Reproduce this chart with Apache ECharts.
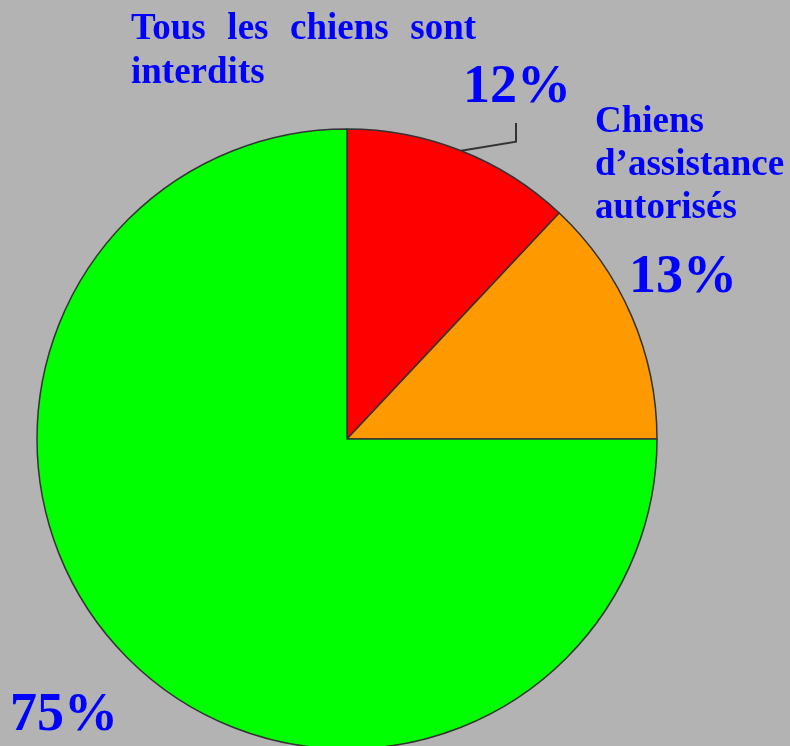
<!DOCTYPE html>
<html>
<head>
<meta charset="utf-8">
<script src="https://cdn.jsdelivr.net/npm/echarts@6/dist/echarts.min.js"></script>
<style>
  html, body { margin: 0; padding: 0; background: #b3b3b3; }
  #chart { width: 790px; height: 746px; }
</style>
</head>
<body>
<div id="chart"></div>
<script>
// données du graphique
const categories = ["Tous les chiens sont interdits", "Chiens d\u2019assistance autorisés", "Autres"];
const values = [12, 13, 75];
const colors = ["#ff0000", "#ff9900", "#00ff00"];

const chart = echarts.init(document.getElementById("chart"));

const serif = "'Liberation Serif', 'Times New Roman', serif";

// positions des étiquettes de pourcentage
const labelPos = [
    { x: 517, y: 88 },
    { x: 683, y: 278 },
    { x: 64, y: 716 }
];

// texte justifié : espaces élargies entre les mots
const gap = "  \u200A";

chart.setOption({
    backgroundColor: "#b3b3b3",
    title: [
        {
            text: ["Tous", "les", "chiens", "sont"].join(gap) + "\ninterdits",
            left: 131,
            top: 7,
            padding: 0,
            textStyle: {
                fontFamily: serif,
                fontWeight: "bold",
                fontSize: 37,
                lineHeight: 44,
                color: "#0000ff"
            }
        },
        {
            text: "Chiens\nd\u2019assistance\nautorisés",
            left: 595,
            top: 101,
            padding: 0,
            textStyle: {
                fontFamily: serif,
                fontWeight: "bold",
                fontSize: 37,
                lineHeight: 43,
                color: "#0000ff"
            }
        }
    ],
    series: [
        {
            type: "pie",
            center: [347, 439],
            radius: 310,
            startAngle: 90,
            clockwise: true,
            avoidLabelOverlap: false,
            animation: false,
            itemStyle: {
                borderColor: "#333333",
                borderWidth: 1.5
            },
            label: {
                show: true,
                formatter: "{c}%",
                fontFamily: serif,
                fontWeight: "bold",
                fontSize: 54,
                color: "#0000ff"
            },
            labelLine: {
                show: true,
                lineStyle: { color: "#333333", width: 2 }
            },
            labelLayout: function (params) {
                const p = labelPos[params.dataIndex];
                const out = { x: p.x, y: p.y, align: "center", verticalAlign: "middle" };
                if (params.dataIndex === 0 && params.labelLinePoints) {
                    const start = params.labelLinePoints[0];
                    out.labelLinePoints = [start, [516, start[1] - 9], [516, 123]];
                }
                return out;
            },
            data: values.map((v, i) => ({
                name: categories[i],
                value: v,
                itemStyle: { color: colors[i] },
                labelLine: { show: i === 0 }
            }))
        }
    ]
});
</script>
</body>
</html>
